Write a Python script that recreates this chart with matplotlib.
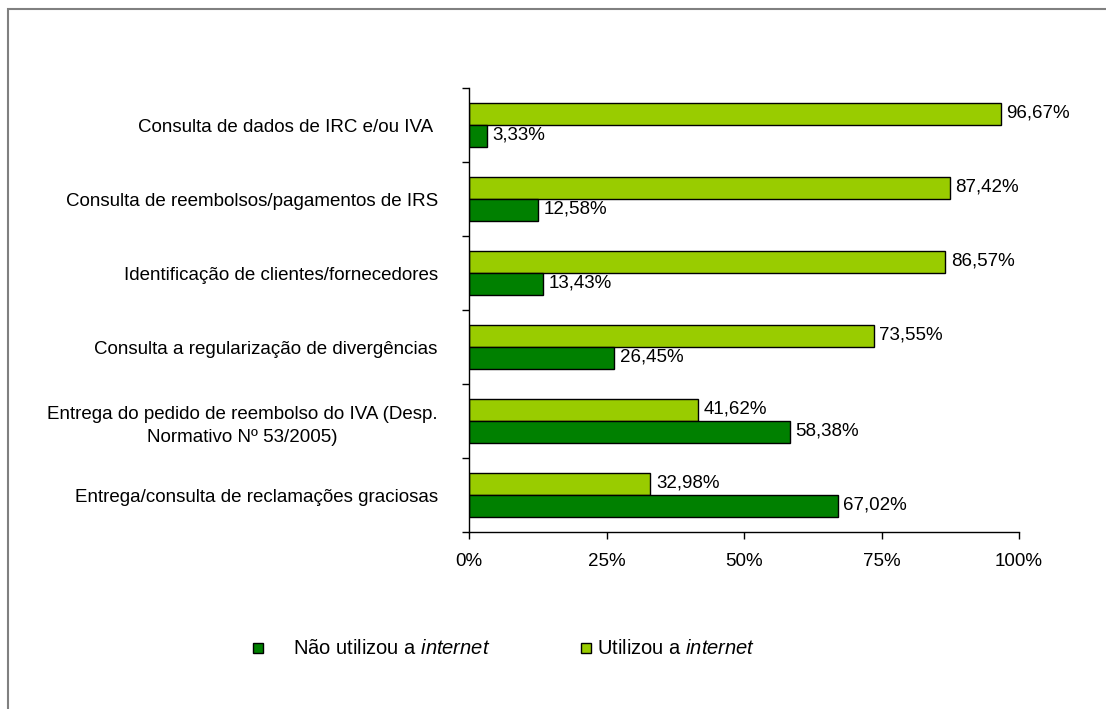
import matplotlib
matplotlib.use("Agg")
import matplotlib.pyplot as plt
from matplotlib.patches import Rectangle

plt.rcParams['font.family'] = ['Liberation Sans', 'DejaVu Sans']
plt.rcParams['mathtext.fontset'] = 'custom'
plt.rcParams['mathtext.rm'] = 'Liberation Sans'
plt.rcParams['mathtext.it'] = 'Liberation Sans:italic'

categories = [
    "Consulta de dados de IRC e/ou IVA ",
    "Consulta de reembolsos/pagamentos de IRS",
    "Identificação de clientes/fornecedores",
    "Consulta a regularização de divergências",
    "Entrega do pedido de reembolso do IVA (Desp.\nNormativo Nº 53/2005)",
    "Entrega/consulta de reclamações graciosas",
]
utilizou = [96.67, 87.42, 86.57, 73.55, 41.62, 32.98]
nao_utilizou = [3.33, 12.58, 13.43, 26.45, 58.38, 67.02]
xticks = [0, 25, 50, 75, 100]

light = '#99CC00'
dark = '#008000'

fig = plt.figure(figsize=(11.06, 7.09), dpi=100)
ax = fig.add_axes([469 / 1106, 1 - 532 / 709, 550 / 1106, 444 / 709])

h = 0.3
ypos = list(range(len(categories)))
yl = [y - h / 2 for y in ypos]
yd = [y + h / 2 for y in ypos]
ax.barh(yl, utilizou, height=h, color=light, edgecolor='black', linewidth=1)
ax.barh(yd, nao_utilizou, height=h, color=dark, edgecolor='black', linewidth=1)

fs = 13.5
for y, v in zip(yl, utilizou):
    ax.text(v + 1.0, y - 0.01, f"{v:.2f}%".replace('.', ','), va='center', ha='left', fontsize=fs)
for y, v in zip(yd, nao_utilizou):
    ax.text(v + 1.0, y - 0.01, f"{v:.2f}%".replace('.', ','), va='center', ha='left', fontsize=fs)

ax.set_xlim(0, 100)
ax.set_ylim(len(categories) - 0.5, -0.5)
ax.set_xticks(xticks)
ax.set_xticklabels([f"{t}%" for t in xticks], fontsize=fs)
ax.set_yticks(ypos)
ax.set_yticklabels(categories, fontsize=fs, multialignment='center', linespacing=1.45)
ax.set_yticks([y - 0.5 for y in range(len(categories) + 1)], minor=True)
ax.tick_params(axis='y', which='major', length=0, pad=22.5)
ax.tick_params(axis='y', which='minor', length=5, width=1, color='black', direction='out')
ax.tick_params(axis='x', length=5, width=1, direction='out', pad=10)
for s in ['top', 'right']:
    ax.spines[s].set_visible(False)
ax.spines['left'].set_linewidth(1)
ax.spines['bottom'].set_linewidth(1)

# outer frame
fig.patches.append(Rectangle((8 / 1106, -0.1), 1.2, 1 - 9 / 709 + 0.1,
                             transform=fig.transFigure, fill=False,
                             edgecolor='#808080', linewidth=1.5))

# legend
legend_items = [
    (dark, "Não utilizou a $\\mathit{internet}$", 253, 293),
    (light, "Utilizou a $\\mathit{internet}$", 581, 597),
]
ly = 1 - 648 / 709
for col, lab, px, tx in legend_items:
    fig.patches.append(Rectangle((px / 1106, ly - 5 / 709), 10 / 1106, 10 / 709,
                                 transform=fig.transFigure, facecolor=col,
                                 edgecolor='black', linewidth=1))
    fig.text(tx / 1106, ly, lab, fontsize=14.5, va='center', ha='left')

fig.savefig('out.png', dpi=100)
